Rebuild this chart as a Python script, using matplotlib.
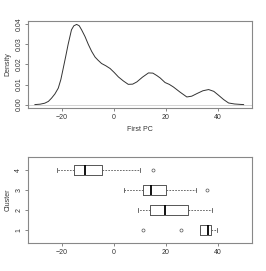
import matplotlib
matplotlib.use("Agg")
from matplotlib import pyplot as plt

# density curve
pc_x = [-30.5, -28.5, -26.7, -25.3, -24.1, -22.8, -21.5, -20.5, -19.6, -18.6, -17.7,
        -16.9, -16.4, -15.5, -14.4, -13.4, -12.5, -11.2, -9.9, -8.6, -7.3, -6.2, -4.8,
        -3.2, -1.5, 0.1, 1.7, 3.6, 5.5, 7.2, 8.8, 11.0, 13.3, 15.0, 16.5, 17.8, 19.7,
        21.3, 22.9, 25.5, 28.1, 30.0, 32.0, 34.3, 36.5, 38.5, 40.3, 42.3, 44.2, 46.5,
        48.7, 50.0]
density = [0.0, 0.0002, 0.0007, 0.0016, 0.0032, 0.0053, 0.0082, 0.0125, 0.018, 0.0242,
           0.030, 0.0345, 0.0373, 0.0393, 0.040, 0.0393, 0.0373, 0.034, 0.030, 0.0265,
           0.0237, 0.0222, 0.0205, 0.0194, 0.018, 0.016, 0.0138, 0.0118, 0.0101, 0.0102,
           0.0113, 0.0137, 0.0158, 0.0157, 0.0145, 0.0133, 0.011, 0.0101, 0.0088, 0.0062,
           0.0038, 0.0042, 0.0055, 0.0069, 0.0075, 0.0066, 0.0047, 0.0025, 0.0008, 0.0003,
           0.0001, 0.0]

# boxplot stats per cluster
clusters = [1, 2, 3, 4]
whislo = [33.3, 9.2, 3.9, -21.9]
q1 = [33.3, 13.7, 11.0, -15.4]
med = [36.1, 19.6, 14.2, -11.3]
q3 = [37.6, 28.4, 20.0, -4.8]
whishi = [39.7, 37.9, 31.5, 10.2]
fliers = [[11.0, 25.8], [], [35.9], [15.0]]

plt.rcParams['font.family'] = 'Liberation Sans'
plt.rcParams['text.color'] = '#333333'
plt.rcParams['axes.labelcolor'] = '#333333'
fig = plt.figure(figsize=(2.66, 2.71), dpi=100)
edge = "#555555"

ax1 = fig.add_axes([0.105, 0.6015, 0.842, 0.321])
ax1.axhline(0, color="#cccccc", lw=0.6)
ax1.plot(pc_x, density, color="#333333", lw=0.7)
ax1.set_xlim(-33.2, 53.2)
ax1.set_ylim(-0.0017, 0.0417)
ax1.set_xticks([-20, 0, 20, 40])
ax1.set_yticks([0.0, 0.01, 0.02, 0.03, 0.04])
ax1.set_yticklabels(["0.00", "0.01", "0.02", "0.03", "0.04"], rotation=90, va="center")
ax1.set_xlabel("First PC", fontsize=5, labelpad=4)
ax1.set_ylabel("Density", fontsize=5, labelpad=3)

ax2 = fig.add_axes([0.105, 0.1022, 0.842, 0.3196])
stats = []
for i in range(len(clusters)):
    stats.append(dict(whislo=whislo[i], q1=q1[i], med=med[i], q3=q3[i],
                      whishi=whishi[i], fliers=fliers[i]))
ax2.bxp(stats, positions=clusters, vert=False, widths=0.46, capwidths=0.2,
        boxprops=dict(color=edge, lw=0.7),
        whiskerprops=dict(color=edge, lw=0.6, ls=(0, (2, 1.5))),
        capprops=dict(color=edge, lw=0.6),
        medianprops=dict(color="black", lw=1.3),
        flierprops=dict(marker="o", markersize=2.2, markerfacecolor="none",
                        markeredgecolor=edge, markeredgewidth=0.5))
ax2.set_xlim(-33.2, 53.2)
ax2.set_ylim(0.34, 4.66)
ax2.set_xticks([-20, 0, 20, 40])
ax2.set_yticks(clusters)
ax2.set_yticklabels([str(c) for c in clusters], rotation=90, va="center")
ax2.set_ylabel("Cluster", fontsize=5, labelpad=3)

for ax in (ax1, ax2):
    for s in ax.spines.values():
        s.set_color("#888888")
        s.set_linewidth(0.8)
    ax.tick_params(labelsize=5, length=2, width=0.5, color=edge, labelcolor="#333333", pad=2)

fig.savefig("out.png", dpi=100)
